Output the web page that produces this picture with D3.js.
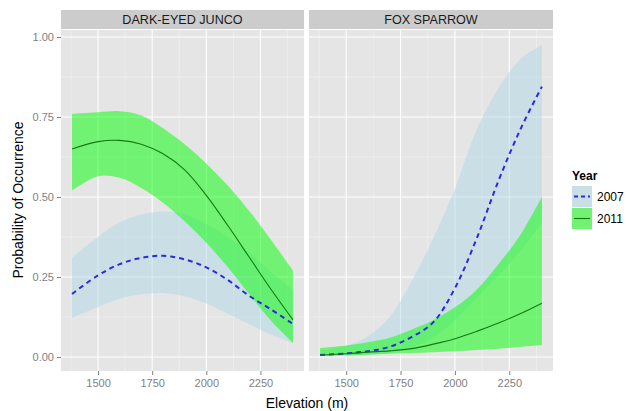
<!DOCTYPE html>
<html><head><meta charset="utf-8">
<script src="https://cdn.jsdelivr.net/npm/d3@7"></script>
<style>body{margin:0;background:#fff}svg{display:block;font-family:"Liberation Sans",Arial,sans-serif}</style>
</head><body><svg id="c" width="626" height="411"></svg>
<script>
const elevation = [1380,1500,1600,1700,1800,1900,2000,2100,2200,2300,2400];
const panels = ["DARK-EYED JUNCO","FOX SPARROW"];
const years = ["2007","2011"];
// Dark-eyed junco
const juncoMean2007 = [0.197,0.255,0.290,0.310,0.316,0.305,0.280,0.240,0.190,0.148,0.103];
const juncoLow2007  = [0.122,0.156,0.182,0.196,0.200,0.190,0.167,0.135,0.102,0.070,0.043];
const juncoHigh2007 = [0.310,0.375,0.420,0.445,0.455,0.445,0.415,0.375,0.325,0.265,0.210];
const juncoMean2011 = [0.650,0.673,0.677,0.665,0.635,0.585,0.505,0.410,0.310,0.210,0.116];
const juncoLow2011  = [0.520,0.565,0.560,0.528,0.482,0.424,0.357,0.280,0.195,0.112,0.044];
const juncoHigh2011 = [0.760,0.765,0.768,0.755,0.715,0.665,0.605,0.535,0.455,0.365,0.270];
// Fox sparrow
const foxMean2007 = [0.006,0.011,0.018,0.032,0.062,0.108,0.215,0.370,0.550,0.710,0.845];
const foxLow2007  = [0.002,0.004,0.007,0.013,0.028,0.060,0.115,0.185,0.255,0.330,0.420];
const foxHigh2007 = [0.020,0.035,0.065,0.125,0.235,0.370,0.525,0.710,0.840,0.930,0.975];
const foxMean2011 = [0.006,0.010,0.015,0.019,0.026,0.040,0.057,0.080,0.106,0.135,0.168];
const foxLow2011  = [0.003,0.005,0.007,0.010,0.012,0.015,0.018,0.022,0.026,0.031,0.037];
const foxHigh2011 = [0.028,0.036,0.046,0.060,0.085,0.115,0.155,0.210,0.290,0.380,0.500];
const xTicks = [1500,1750,2000,2250];
const xMinor = [1375,1625,1875,2125,2375];
const yTicks = [0,0.25,0.5,0.75,1];
const yMinor = [0.125,0.375,0.625,0.875];

const series = {
  "DARK-EYED JUNCO": {
    "2007": {mean: juncoMean2007, low: juncoLow2007, high: juncoHigh2007},
    "2011": {mean: juncoMean2011, low: juncoLow2011, high: juncoHigh2011}
  },
  "FOX SPARROW": {
    "2007": {mean: foxMean2007, low: foxLow2007, high: foxHigh2007},
    "2011": {mean: foxMean2011, low: foxLow2011, high: foxHigh2011}
  }
};
const fillCol = {"2007":"rgba(173,216,230,0.5)","2011":"rgba(0,255,0,0.5)"};
const lineCol = {"2007":"#2a2adf","2011":"#137a13"};
const lineW = {"2007":2,"2011":1.1};
const dash = {"2007":"5,4","2011":null};
const curve = d3.curveCatmullRom.alpha(0.5);

const svg = d3.select("#c");
const panelX = [[61,304],[309,553]];
const pTop = 30, pBottom = 371;
const y = d3.scaleLinear().domain([-0.0439,1.0219]).range([pBottom, pTop]);

panels.forEach((p,i)=>{
  const x = d3.scaleLinear().domain([1329,2451]).range(panelX[i]);
  const g = svg.append("g");
  const [x0,x1] = panelX[i];
  // strip
  g.append("rect").attr("x",x0).attr("y",10).attr("width",x1-x0).attr("height",19).attr("fill","#cccccc");
  g.append("text").attr("x",(x0+x1)/2).attr("y",24).attr("text-anchor","middle")
    .attr("font-size",12.6).attr("fill","#1a1a1a").text(p);
  // panel
  g.append("rect").attr("x",x0).attr("y",pTop).attr("width",x1-x0).attr("height",pBottom-pTop).attr("fill","#e5e5e5");
  const clip = "clip"+i;
  svg.append("clipPath").attr("id",clip).append("rect").attr("x",x0).attr("y",pTop).attr("width",x1-x0).attr("height",pBottom-pTop);
  const inner = g.append("g").attr("clip-path",`url(#${clip})`);
  inner.selectAll(".xmin").data(xMinor).enter().append("line")
    .attr("x1",d=>x(d)).attr("x2",d=>x(d)).attr("y1",pTop).attr("y2",pBottom).attr("stroke","#f2f2f2").attr("stroke-width",0.6);
  inner.selectAll(".ymin").data(yMinor).enter().append("line")
    .attr("y1",d=>y(d)).attr("y2",d=>y(d)).attr("x1",x0).attr("x2",x1).attr("stroke","#f2f2f2").attr("stroke-width",0.6);
  inner.selectAll(".xmaj").data(xTicks).enter().append("line")
    .attr("x1",d=>x(d)).attr("x2",d=>x(d)).attr("y1",pTop).attr("y2",pBottom).attr("stroke","#ffffff").attr("stroke-width",1.1);
  inner.selectAll(".ymaj").data(yTicks).enter().append("line")
    .attr("y1",d=>y(d)).attr("y2",d=>y(d)).attr("x1",x0).attr("x2",x1).attr("stroke","#ffffff").attr("stroke-width",1.1);
  years.forEach(yr=>{
    const s = series[p][yr];
    const pts = elevation.map((e,k)=>({e, m:s.mean[k], lo:s.low[k], hi:s.high[k]}));
    const area = d3.area().x(d=>x(d.e)).y0(d=>y(d.lo)).y1(d=>y(d.hi)).curve(curve);
    inner.append("path").datum(pts).attr("d",area).attr("fill",fillCol[yr]);
  });
  years.forEach(yr=>{
    const s = series[p][yr];
    const pts = elevation.map((e,k)=>({e, m:s.mean[k]}));
    const line = d3.line().x(d=>x(d.e)).y(d=>y(d.m)).curve(curve);
    inner.append("path").datum(pts).attr("d",line).attr("fill","none")
      .attr("stroke",lineCol[yr]).attr("stroke-width",lineW[yr]).attr("stroke-dasharray",dash[yr]);
  });
  // x axis
  const xa = d3.axisBottom(x).tickValues(xTicks).tickSize(4).tickPadding(4).tickFormat(d3.format("d"));
  const gx = g.append("g").attr("transform",`translate(0,${pBottom})`).call(xa);
  gx.select(".domain").remove();
  gx.selectAll("line").attr("stroke","#7f7f7f");
  gx.selectAll("text").attr("fill","#7f7f7f").attr("font-size",11).style("font-family","Liberation Sans, Arial, sans-serif");
  if(i===0){
    const ya = d3.axisLeft(y).tickValues(yTicks).tickSize(4).tickPadding(3).tickFormat(d3.format(".2f"));
    const gy = g.append("g").attr("transform",`translate(${x0},0)`).call(ya);
    gy.select(".domain").remove();
    gy.selectAll("line").attr("stroke","#7f7f7f");
    gy.selectAll("text").attr("fill","#7f7f7f").attr("font-size",11).style("font-family","Liberation Sans, Arial, sans-serif");
  }
});
// axis titles
svg.append("text").attr("x",307).attr("y",408).attr("text-anchor","middle").attr("font-size",14).attr("fill","#000").text("Elevation (m)");
svg.append("text").attr("transform","translate(23,200) rotate(-90)").attr("text-anchor","middle").attr("font-size",14).attr("fill","#000").text("Probability of Occurrence");
// legend
const lg = svg.append("g");
lg.append("text").attr("x",572).attr("y",180).attr("font-size",12).attr("font-weight","bold").text("Year");
years.forEach((yr,k)=>{
  const ky = 186 + k*22;
  lg.append("rect").attr("x",572).attr("y",ky).attr("width",20).attr("height",21).attr("fill","#e5e5e5");
  lg.append("rect").attr("x",572).attr("y",ky).attr("width",20).attr("height",21).attr("fill",fillCol[yr]);
  lg.append("line").attr("x1",574).attr("x2",590).attr("y1",ky+10.5).attr("y2",ky+10.5)
    .attr("stroke",lineCol[yr]).attr("stroke-width",lineW[yr]).attr("stroke-dasharray",dash[yr]?"4,3":null);
  lg.append("text").attr("x",597).attr("y",ky+15).attr("font-size",12).attr("fill","#000").text(yr);
});
</script></body></html>
